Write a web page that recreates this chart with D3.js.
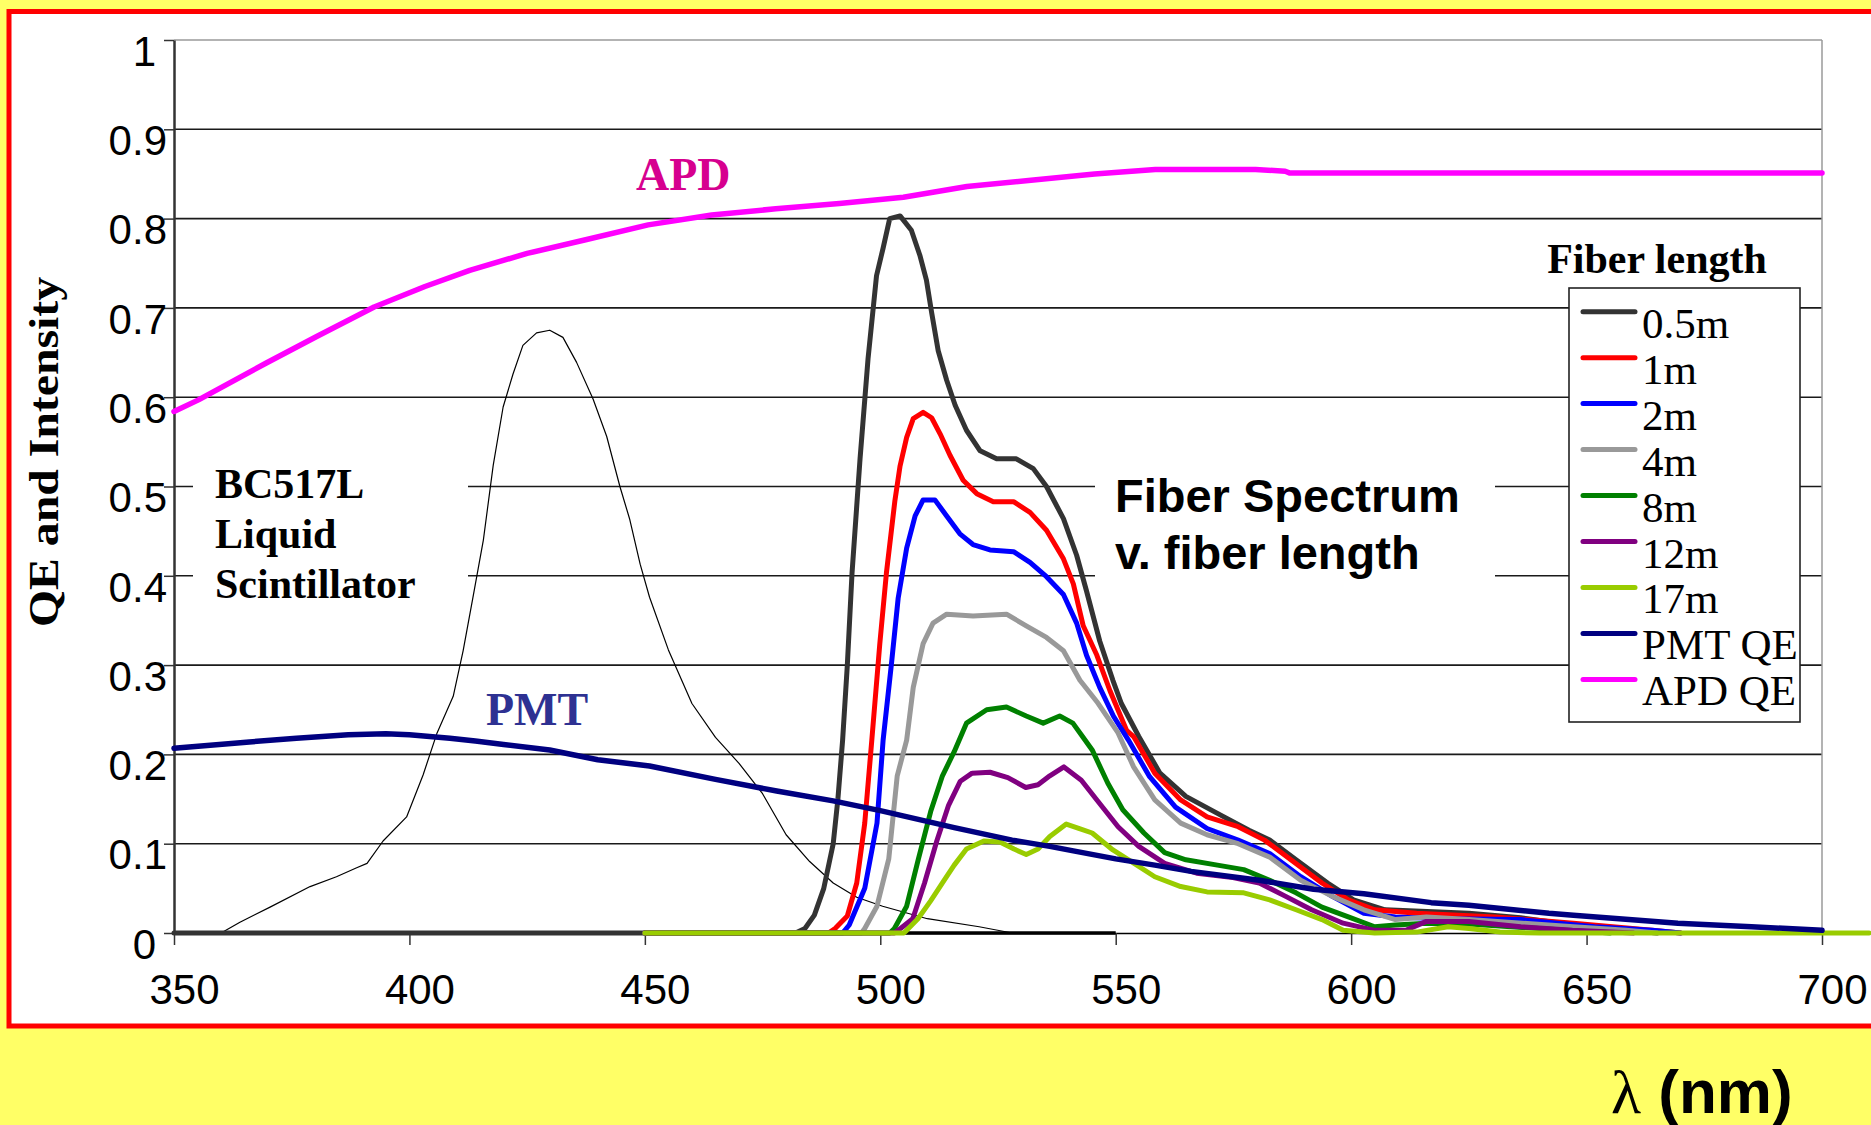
<!DOCTYPE html>
<html>
<head>
<meta charset="utf-8">
<script src="https://cdn.jsdelivr.net/npm/d3@7"></script>
<style>
  html, body { margin: 0; padding: 0; background: #FFFF66; }
  svg { display: block; }
</style>
</head>
<body>
<svg id="chart" width="1871" height="1125"></svg>
<script>
// ---------------- DATA ----------------
const xTicks = [350, 400, 450, 500, 550, 600, 650, 700];
const yTicks = [0, 0.1, 0.2, 0.3, 0.4, 0.5, 0.6, 0.7, 0.8, 0.9, 1];

const seriesNames = ["0.5m", "1m", "2m", "4m", "8m", "12m", "17m", "PMT QE", "APD QE"];
const seriesColors = ["#333333", "#FF0000", "#0000FF", "#999999", "#008000", "#800080", "#99CC00", "#000080", "#FF00FF"];

// Fiber emission spectra [wavelength nm, intensity]
const fiber05m = [[350,0],[482,0],[484,0.005],[486,0.02],[488,0.05],[490,0.1],[491,0.15],[492,0.216],[493,0.3],[494,0.403],[495.7,0.531],[497.4,0.643],[499.2,0.736],[500.6,0.767],[502,0.8],[504.2,0.803],[506.6,0.787],[508.4,0.759],[509.8,0.731],[510.9,0.695],[512.3,0.652],[514.1,0.619],[515.9,0.591],[518.3,0.563],[521.2,0.54],[524.7,0.531],[528.9,0.531],[532.5,0.52],[535.3,0.5],[538.9,0.464],[541.7,0.423],[543.8,0.383],[546.6,0.327],[549.4,0.283],[551.2,0.257],[554.9,0.22],[559.4,0.179],[564.9,0.153],[571.6,0.134],[578.3,0.115],[582.7,0.104],[588.3,0.082],[595,0.056],[600.5,0.037],[607.2,0.026],[625,0.022],[636,0.017],[647.2,0.009],[658.4,0.003],[665,0]];
const fiber1m = [[450,0],[489,0],[490.4,0.005],[493,0.019],[495,0.056],[496.7,0.123],[498.2,0.216],[499.9,0.324],[501.3,0.403],[503.1,0.484],[504.2,0.523],[505.6,0.555],[507,0.576],[509.1,0.583],[510.9,0.577],[512.7,0.559],[514.8,0.535],[517.6,0.507],[520.5,0.492],[524,0.483],[528.3,0.483],[531.8,0.471],[535.3,0.451],[538.9,0.419],[541,0.391],[543.1,0.344],[546,0.311],[548.8,0.271],[552.3,0.227],[553.8,0.22],[558.3,0.179],[563.8,0.149],[569.4,0.13],[576,0.119],[581.6,0.104],[587.2,0.082],[593.8,0.056],[599.4,0.037],[605,0.026],[613.9,0.022],[630.6,0.018],[647.2,0.011],[663.9,0.003],[670,0]];
const fiber2m = [[450,0],[492,0],[493.4,0.009],[496.7,0.05],[499.3,0.123],[500.6,0.216],[502.4,0.303],[503.8,0.375],[505.6,0.431],[507.4,0.467],[509.1,0.485],[511.6,0.485],[514.1,0.467],[516.9,0.447],[519.7,0.435],[523.3,0.429],[528.3,0.427],[531.8,0.415],[535.3,0.399],[538.9,0.379],[541.7,0.347],[543.8,0.311],[546.6,0.275],[549.5,0.243],[552.7,0.216],[557.2,0.175],[562.7,0.141],[569.4,0.117],[576,0.104],[582.7,0.089],[589.3,0.063],[596,0.041],[602.7,0.022],[609.4,0.018],[619.4,0.016],[636,0.015],[651.7,0.007],[663.9,0.003],[670,0]];
const fiber4m = [[450,0],[496,0],[496.7,0.005],[499.3,0.03],[501.8,0.083],[503.6,0.176],[505.6,0.216],[507,0.275],[509.1,0.324],[511.2,0.347],[514.1,0.357],[519.7,0.355],[526.8,0.357],[531,0.344],[535.3,0.331],[538.9,0.316],[542.4,0.283],[546,0.259],[550.5,0.224],[553.8,0.186],[558.3,0.149],[563.8,0.123],[569.4,0.11],[576,0.1],[582.7,0.085],[589.3,0.059],[596,0.041],[602.7,0.026],[609.4,0.015],[616,0.018],[625,0.015],[647.2,0.007],[658.4,0.003],[665,0]];
const fiber8m = [[450,0],[502,0],[503,0.005],[505.6,0.03],[508.1,0.083],[510.7,0.136],[513.2,0.176],[515.7,0.203],[518.3,0.235],[522.6,0.25],[526.8,0.253],[531,0.243],[534.6,0.235],[538.1,0.243],[540.9,0.235],[543.1,0.219],[545,0.205],[548.3,0.168],[551.5,0.138],[556,0.112],[560.4,0.09],[564.9,0.082],[571.6,0.076],[577.2,0.071],[582.7,0.059],[588.3,0.045],[593.8,0.029],[599.4,0.018],[605,0.007],[609.4,0.009],[616,0.011],[625,0.01],[640,0.005],[655,0]];
const fiber12m = [[450,0],[503,0],[504.3,0.005],[506.9,0.016],[509.4,0.056],[512,0.103],[514.5,0.143],[517,0.17],[519.5,0.179],[523.3,0.18],[527.1,0.174],[530.9,0.163],[533.5,0.166],[536,0.176],[539,0.186],[542.7,0.171],[546,0.149],[550.5,0.119],[554.9,0.097],[560.4,0.078],[567.2,0.067],[574.9,0.062],[580.5,0.056],[586.1,0.041],[591.6,0.026],[598.3,0.011],[605,0.003],[611.6,0.003],[616,0.013],[625,0.013],[636,0.007],[647,0.003],[660,0]];
const fiber17m = [[450,0],[505,0],[505.6,0.003],[508,0.016],[510.7,0.036],[513.2,0.056],[515.7,0.076],[518.3,0.094],[522,0.103],[525.4,0.102],[528.4,0.094],[531,0.088],[533.5,0.094],[536,0.108],[539.5,0.122],[542.3,0.117],[545,0.112],[549.4,0.093],[553.9,0.078],[558.3,0.063],[563.8,0.052],[569.4,0.046],[577.2,0.045],[582.7,0.037],[588.3,0.026],[593.8,0.015],[598.3,0.003],[605,0],[613.9,0.001],[620.6,0.007],[625,0.005],[631.6,0.001],[640,0],[710,0]];

// Detector quantum efficiencies
const pmtQE = [[350,0.207],[366,0.214],[376,0.218],[387,0.222],[395,0.223],[400,0.222],[408.6,0.218],[414,0.215],[420,0.211],[429.8,0.205],[440,0.194],[451,0.187],[465,0.172],[478,0.159],[490,0.148],[500,0.137],[515.7,0.118],[528,0.104],[536,0.097],[541,0.092],[550,0.083],[558.3,0.076],[566,0.069],[580.5,0.059],[592,0.049],[602.7,0.044],[617,0.034],[625,0.031],[642,0.022],[647.2,0.02],[669.4,0.011],[685,0.007],[700,0.003]];
const apdQE = [[350,0.584],[355.2,0.597],[369.5,0.638],[380.3,0.668],[392.5,0.701],[403.3,0.724],[412.8,0.742],[425,0.761],[437.2,0.776],[450.7,0.793],[464.2,0.804],[477.8,0.811],[491.3,0.817],[504.9,0.824],[518.4,0.836],[532,0.843],[545.5,0.85],[558.4,0.855],[579.7,0.855],[586,0.853],[587,0.851],[700,0.851]];

// BC517L liquid scintillator emission
const scintillator = [[360,0],[364,0.012],[370.4,0.029],[378.9,0.052],[384.5,0.063],[388.8,0.073],[391,0.078],[394.4,0.103],[399.4,0.13],[402.9,0.177],[405.8,0.223],[409.3,0.265],[411.4,0.316],[413.5,0.376],[415.7,0.44],[417.8,0.524],[419.9,0.589],[422,0.626],[424.1,0.658],[427,0.672],[429.8,0.675],[432.6,0.667],[435.5,0.639],[439,0.598],[441.9,0.556],[444.7,0.5],[446.8,0.463],[449,0.413],[451,0.376],[455,0.317],[460,0.257],[465,0.219],[470,0.19],[475,0.156],[480,0.11],[485,0.08],[490,0.056],[495,0.04],[500.5,0.03],[510,0.016],[521,0.007],[528,0]];
// zero baseline trace (thick) of the scintillator range
const zeroTrace = [[350,0],[550,0]];

const allSeries = [fiber05m, fiber1m, fiber2m, fiber4m, fiber8m, fiber12m, fiber17m, pmtQE, apdQE];

// ---------------- DRAW ----------------
const svg = d3.select("#chart");
const W = 1871, H = 1125;

svg.append("rect").attr("width", W).attr("height", H).attr("fill", "#FFFF66");
svg.append("rect").attr("x", 9).attr("y", 11.5).attr("width", 1900).attr("height", 1014.5)
  .attr("fill", "#FFFFFF").attr("stroke", "#FF0000").attr("stroke-width", 5);

const x = d3.scaleLinear().domain([350, 700]).range([174, 1822]);
const y = d3.scaleLinear().domain([0, 1]).range([933, 40]);

// gridlines
svg.append("g").selectAll("line").data(yTicks.filter(d => d > 0)).join("line")
  .attr("x1", x(350)).attr("x2", x(700))
  .attr("y1", d => y(d)).attr("y2", d => y(d))
  .attr("stroke", d => d === 1 ? "#9a9a9a" : "#1a1a1a")
  .attr("stroke-width", d => d === 1 ? 1.5 : 1.6);

// right frame
svg.append("line").attr("x1", x(700)).attr("x2", x(700)).attr("y1", y(1)).attr("y2", y(0))
  .attr("stroke", "#9a9a9a").attr("stroke-width", 1.5);

// white boxes behind annotations
svg.append("rect").attr("x", 193).attr("y", 462).attr("width", 275).attr("height", 140).attr("fill", "#fff");
svg.append("rect").attr("x", 1095).attr("y", 468).attr("width", 400).attr("height", 125).attr("fill", "#fff");

// axes
const yAxis = d3.axisLeft(y).tickValues(yTicks).tickSize(10).tickSizeOuter(0)
  .tickFormat(d => (d === 0 || d === 1) ? String(d) : d3.format(".1f")(d));
const gy = svg.append("g").attr("transform", `translate(${x(350)},0)`).call(yAxis);
gy.select(".domain").attr("stroke", "#333").attr("stroke-width", 2.5);
gy.selectAll(".tick line").attr("stroke", "#333").attr("stroke-width", 1.5);
gy.selectAll(".tick text")
  .attr("font-family", "'Liberation Sans', Arial, sans-serif").attr("font-size", 42).attr("fill", "#000")
  .attr("x", d => (d === 0 || d === 1) ? -18 : -7).attr("dy", "0.6em");

const xAxis = d3.axisBottom(y.copy().domain([350,700]).range([174,1822])).tickValues(xTicks).tickSize(12).tickSizeOuter(0).tickFormat(d3.format("d"));
const gx = svg.append("g").attr("transform", `translate(0,${y(0)})`).call(d3.axisBottom(x).tickValues(xTicks).tickSize(12).tickSizeOuter(0).tickFormat(d3.format("d")));
gx.select(".domain").attr("stroke", "#000").attr("stroke-width", 1.5);
gx.selectAll(".tick line").attr("stroke", "#333").attr("stroke-width", 1.5);
gx.selectAll(".tick text")
  .attr("font-family", "'Liberation Sans', Arial, sans-serif").attr("font-size", 42).attr("fill", "#000")
  .attr("y", 71).attr("dy", 0).attr("x", 10);

const line = d3.line().x(d => x(d[0])).y(d => y(d[1])).curve(d3.curveLinear);

// zero trace
svg.append("path").datum(zeroTrace).attr("d", line).attr("fill", "none")
  .attr("stroke", "#000").attr("stroke-width", 3.5);

// scintillator
svg.append("path").datum(scintillator).attr("d", line).attr("fill", "none")
  .attr("stroke", "#000").attr("stroke-width", 1.2).attr("stroke-linejoin", "round");

// series
svg.append("g").selectAll("path").data(allSeries).join("path")
  .attr("d", line).attr("fill", "none")
  .attr("stroke", (d, i) => seriesColors[i])
  .attr("stroke-width", (d, i) => i >= 7 ? 5.5 : 5)
  .attr("stroke-linejoin", "round").attr("stroke-linecap", "round");

// annotations
const serif = "'Liberation Serif', 'Times New Roman', serif";
const sans = "'Liberation Sans', Arial, sans-serif";

svg.append("text").attr("x", 636).attr("y", 190).attr("font-family", serif).attr("font-weight", "bold")
  .attr("font-size", 46).attr("fill", "#D6008F").text("APD");
svg.append("text").attr("x", 486).attr("y", 725).attr("font-family", serif).attr("font-weight", "bold")
  .attr("font-size", 46).attr("fill", "#2E3192").text("PMT");

const bc = svg.append("text").attr("font-family", serif).attr("font-weight", "bold").attr("font-size", 42).attr("fill", "#000");
[["BC517L", 497.5], ["Liquid", 547.5], ["Scintillator", 597.5]].forEach(([t, yy]) =>
  bc.append("tspan").attr("x", 215).attr("y", yy).text(t));

const fs = svg.append("text").attr("font-family", sans).attr("font-weight", "bold").attr("font-size", 47).attr("fill", "#000");
[["Fiber Spectrum", 512], ["v. fiber length", 569]].forEach(([t, yy]) =>
  fs.append("tspan").attr("x", 1115).attr("y", yy).text(t));

// y-axis title
svg.append("text").attr("transform", "translate(58,452) rotate(-90)")
  .attr("text-anchor", "middle").attr("font-family", serif).attr("font-weight", "bold")
  .attr("font-size", 43).attr("textLength", 350).attr("lengthAdjust", "spacingAndGlyphs")
  .attr("fill", "#000").text("QE and Intensity");

// x-axis title
const xt = svg.append("text").attr("x", 1611).attr("y", 1113).attr("font-weight", "bold").attr("font-size", 62).attr("fill", "#000");
xt.append("tspan").attr("font-family", serif).attr("font-weight", "normal").text("λ");
xt.append("tspan").attr("font-family", sans).text(" (nm)");

// legend
svg.append("text").attr("x", 1657).attr("y", 273).attr("text-anchor", "middle")
  .attr("font-family", serif).attr("font-weight", "bold").attr("font-size", 42).attr("fill", "#000")
  .text("Fiber length");
svg.append("rect").attr("x", 1569).attr("y", 288).attr("width", 231).attr("height", 434)
  .attr("fill", "#fff").attr("stroke", "#222").attr("stroke-width", 1.6);
const lg = svg.append("g").selectAll("g").data(seriesNames).join("g")
  .attr("transform", (d, i) => `translate(0,${311.7 + i * 45.96})`);
lg.append("line").attr("x1", 1583).attr("x2", 1635).attr("y1", 0).attr("y2", 0)
  .attr("stroke", (d, i) => seriesColors[i]).attr("stroke-width", 5).attr("stroke-linecap", "round");
lg.append("text").attr("x", 1642).attr("y", 26).attr("font-family", serif).attr("font-size", 43)
  .attr("fill", "#000").text(d => d);
</script>
</body>
</html>
